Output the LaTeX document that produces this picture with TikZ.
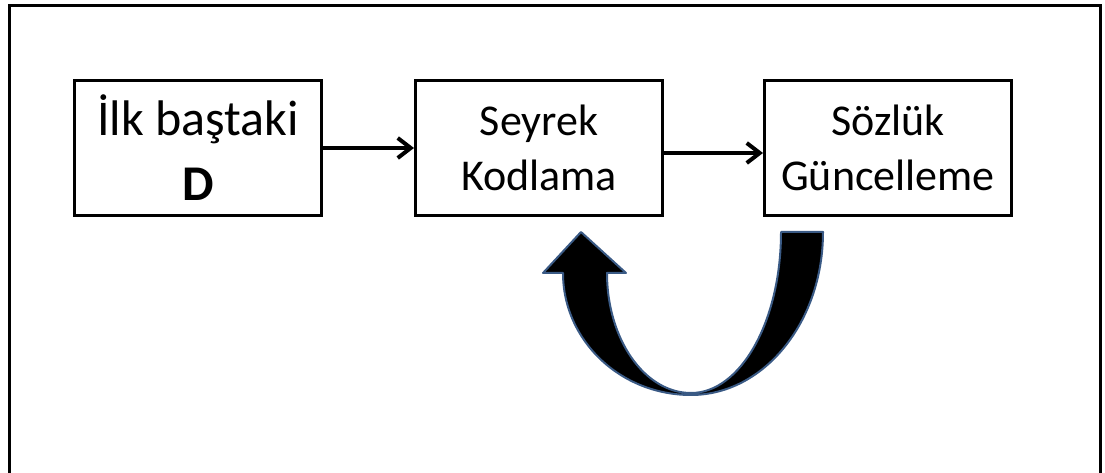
\documentclass[tikz,border=0pt]{standalone}
\usepackage{fontspec}
\setmainfont{Carlito}
\usetikzlibrary{arrows.meta}
\definecolor{arrowedge}{HTML}{3A5A85}

\begin{document}
\begin{tikzpicture}[x=1pt,y=1pt]
        \useasboundingbox (0,0) rectangle (1105,473);
        \draw[line width=3pt] (9.5,0) -- (9.5,467) -- (1100.5,467) -- (1100.5,0);
        \begin{scope}[every node/.style={draw=black,line width=3pt,minimum width=247pt,minimum height=135pt,inner sep=0pt,align=center,font=\fontsize{44}{55}\selectfont}]
            \node[font=\fontsize{50}{65}\selectfont] (1) at (198,325) {İlk baştaki\\\textbf{D}};
            \node (2) at (539,325) {Seyrek\\Kodlama};
            \node (3) at (888,325) {Sözlük\\Güncelleme};
        \end{scope}
        \begin{scope}[every edge/.style={draw,line width=4pt}]
            \path [-{Straight Barb[length=13pt,width=20pt]}] (1) edge (2);
            \path [-{Straight Barb[length=13pt,width=20pt]}] ([yshift=-5pt]2.east) edge ([yshift=-5pt]3.west);
        \end{scope}
        % curved arrow back from the update box to the coding box
        \draw[fill=black,draw=arrowedge,line width=2pt,line join=round]
            (581,241) -- (626,200) -- (607,200)
            arc[start angle=180,end angle=270,x radius=84,y radius=120]
            arc[start angle=270,end angle=360,x radius=90,y radius=161]
            -- (823,241)
            arc[start angle=0,end angle=-90,x radius=132,y radius=163]
            arc[start angle=270,end angle=180,x radius=128,y radius=122]
            -- (543,200) -- cycle;
\end{tikzpicture}
\end{document}
